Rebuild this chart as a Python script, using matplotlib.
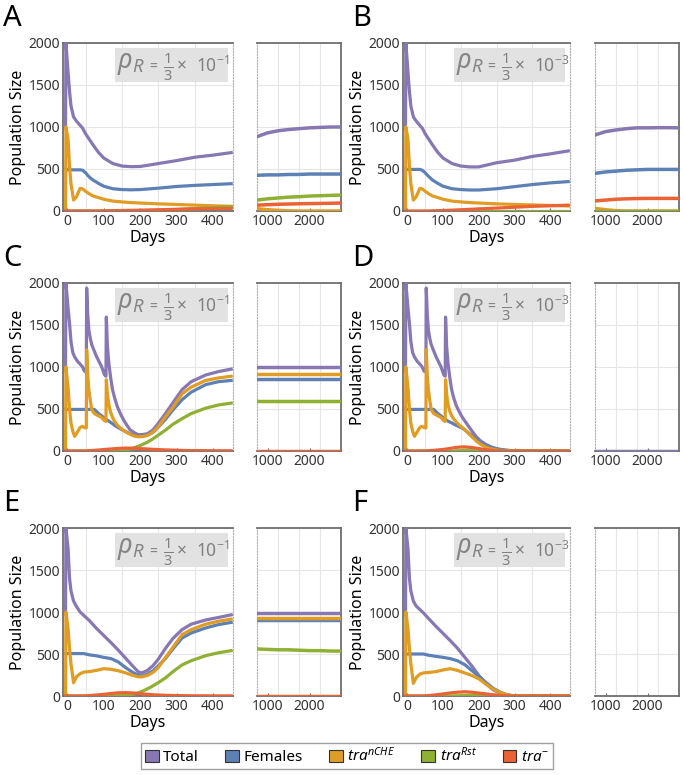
import matplotlib
matplotlib.use("Agg")
import matplotlib.pyplot as plt
from matplotlib.patches import Patch, Rectangle

plt.rcParams["font.family"] = ["Noto Sans", "DejaVu Sans"]
plt.rcParams["mathtext.fontset"] = "custom"
plt.rcParams["mathtext.rm"] = "Noto Sans"
plt.rcParams["mathtext.it"] = "Noto Sans:italic"

# ---- data ----
days_AB = [-5, -4, 2, 6, 10, 17, 25, 35, 42, 50, 60, 70, 85, 100, 125, 150, 175, 200, 250, 300, 350, 400, 450]
A_total = [1000, 2000, 1650, 1420, 1250, 1120, 1070, 1020, 985, 920, 855, 790, 700, 630, 565, 535, 528, 530, 565, 600, 640, 665, 695]
A_females = [500, 500, 490, 490, 490, 490, 490, 490, 485, 455, 405, 370, 330, 295, 265, 255, 252, 255, 272, 292, 305, 315, 325]
A_nche = [0, 1000, 850, 530, 320, 130, 170, 270, 262, 235, 205, 180, 160, 140, 118, 108, 100, 95, 85, 78, 70, 62, 56]
A_rst = [0, 0, 0, 0, 0, 0, 0, 0, 0, 0, 0, 0, 0, 0, 0, 0, 0, 2, 8, 18, 30, 40, 50]
A_minus = [0, 0, 0, 0, 0, 0, 0, 0, 0, 0, 0, 0, 0, 2, 4, 6, 8, 10, 15, 20, 25, 28, 30]

B_total = [1000, 2000, 1650, 1420, 1250, 1120, 1070, 1020, 985, 920, 855, 790, 700, 630, 565, 535, 525, 525, 575, 605, 650, 680, 715]
B_females = [500, 500, 495, 495, 495, 495, 495, 495, 485, 455, 410, 370, 330, 295, 265, 255, 250, 250, 265, 290, 315, 335, 350]
B_nche = [0, 1000, 850, 530, 320, 130, 170, 270, 262, 235, 205, 180, 160, 140, 118, 108, 100, 95, 85, 78, 72, 66, 60]
B_rst = [0, 0, 0, 0, 0, 0, 0, 0, 0, 0, 0, 0, 0, 0, 0, 0, 0, 0, 0, 0, 0, 0, 0]
B_minus = [0, 0, 0, 0, 0, 0, 0, 0, 0, 0, 0, 2, 4, 6, 10, 15, 20, 25, 35, 45, 55, 62, 70]

days_CD = [-5, -4, 2, 6, 10, 15, 20, 28, 35, 41, 47, 52, 53, 56, 59, 63, 67, 74, 80, 87, 94, 102, 106, 107,
           110, 114, 119, 124, 130, 137, 145, 154, 163, 172, 183, 194, 205, 220, 235, 250, 270, 290, 315, 340, 380, 415, 450]
C_total = [1000, 2000, 1700, 1520, 1300, 1170, 1120, 1066, 1035, 1005, 950, 940, 1940, 1620, 1440, 1340, 1265, 1190, 1126, 1065, 1005, 908, 890, 1594,
           1250, 1040, 870, 730, 630, 531, 450, 373, 310, 254, 220, 195, 195, 206, 250, 330, 450, 575, 730, 825, 905, 945, 975]
C_females = [500, 500, 495, 495, 495, 495, 495, 495, 495, 495, 495, 495, 495, 495, 495, 495, 495, 495, 470, 440, 420, 390, 375, 375,
             365, 355, 340, 325, 305, 285, 265, 245, 225, 205, 185, 174, 175, 190, 220, 285, 380, 490, 610, 700, 790, 825, 840]
C_nche = [0, 1000, 750, 500, 330, 234, 174, 230, 280, 293, 280, 274, 1206, 900, 730, 600, 492, 445, 432, 415, 400, 360, 353, 848,
          680, 550, 460, 400, 350, 310, 275, 245, 220, 200, 180, 170, 172, 185, 225, 290, 410, 520, 680, 760, 840, 870, 890]
C_rst = [0, 0, 0, 0, 0, 0, 0, 0, 0, 0, 0, 0, 0, 0, 0, 0, 0, 0, 0, 0, 0, 0, 0, 0,
         0, 0, 0, 0, 0, 0, 0, 5, 15, 25, 38, 55, 75, 105, 145, 190, 250, 318, 385, 445, 510, 548, 570]
C_minus = [0, 0, 0, 0, 0, 0, 0, 0, 0, 0, 0, 0, 2, 3, 4, 5, 6, 8, 10, 12, 15, 18, 20, 20,
           21, 22, 24, 26, 28, 30, 32, 34, 35, 34, 32, 30, 27, 24, 20, 17, 13, 10, 7, 5, 4, 3, 3]

D_total = [1000, 2000, 1700, 1520, 1300, 1170, 1120, 1066, 1035, 1005, 950, 940, 1940, 1620, 1440, 1340, 1265, 1190, 1126, 1065, 1005, 908, 890, 1594,
           1250, 1040, 870, 730, 630, 540, 470, 400, 345, 290, 225, 165, 120, 78, 48, 26, 12, 4, 0, 0, 0, 0, 0]
D_females = [500, 500, 495, 495, 495, 495, 495, 495, 495, 495, 495, 495, 495, 495, 495, 495, 495, 495, 470, 440, 420, 390, 375, 375,
             365, 355, 345, 335, 320, 305, 290, 272, 245, 212, 175, 135, 100, 65, 42, 25, 12, 3, 0, 0, 0, 0, 0]
D_nche = [0, 1000, 750, 500, 330, 234, 174, 230, 280, 293, 280, 274, 1206, 900, 730, 600, 492, 445, 432, 415, 400, 360, 353, 848,
          680, 550, 470, 420, 380, 345, 310, 280, 245, 205, 160, 115, 80, 45, 25, 12, 4, 0, 0, 0, 0, 0, 0]
D_rst = [0, 0, 0, 0, 0, 0, 0, 0, 0, 0, 0, 0, 0, 0, 0, 0, 0, 0, 0, 0, 0, 0, 0, 0,
         0, 0, 0, 0, 0, 2, 4, 6, 8, 8, 7, 6, 4, 2, 1, 0, 0, 0, 0, 0, 0, 0, 0]
D_minus = [0, 0, 0, 0, 0, 0, 0, 0, 0, 0, 0, 0, 2, 3, 4, 5, 6, 8, 10, 13, 16, 20, 22, 22,
           24, 27, 30, 34, 38, 42, 46, 48, 48, 45, 40, 33, 25, 16, 8, 3, 1, 0, 0, 0, 0, 0, 0]

days_E = [-5, -4, 2, 6, 10, 17, 25, 35, 45, 60, 80, 100, 120, 140, 160, 180, 195, 205, 220, 235, 250, 270, 290, 315, 340, 380, 415, 450]
E_total = [1000, 2000, 1750, 1400, 1250, 1130, 1065, 1000, 960, 900, 805, 720, 635, 545, 450, 355, 285, 275, 305, 360, 440, 570, 685, 790, 855, 905, 935, 966]
E_females = [505, 505, 505, 505, 505, 505, 505, 505, 505, 490, 478, 460, 445, 405, 338, 280, 248, 237, 260, 300, 360, 450, 560, 690, 750, 810, 850, 876]
E_nche = [0, 1000, 800, 560, 380, 158, 230, 265, 285, 290, 305, 325, 318, 300, 275, 245, 228, 228, 245, 280, 340, 460, 580, 730, 790, 855, 890, 915]
E_rst = [0, 0, 0, 0, 0, 0, 0, 0, 0, 0, 0, 0, 0, 3, 8, 20, 38, 55, 85, 120, 160, 217, 290, 370, 420, 480, 515, 540]
E_minus = [0, 0, 0, 0, 0, 0, 0, 0, 0, 5, 12, 20, 30, 38, 40, 36, 30, 26, 20, 15, 12, 8, 6, 4, 3, 2, 2, 2]

days_F = [-5, -4, 2, 6, 10, 17, 25, 35, 45, 60, 80, 100, 120, 140, 160, 180, 200, 220, 240, 260, 280, 300, 350, 400, 450]
F_total = [1000, 2000, 1750, 1400, 1250, 1130, 1070, 1030, 990, 920, 830, 745, 660, 570, 465, 360, 245, 145, 75, 32, 10, 2, 0, 0, 0]
F_females = [500, 500, 500, 500, 500, 500, 500, 500, 500, 485, 472, 460, 445, 420, 375, 305, 235, 160, 92, 45, 12, 2, 0, 0, 0]
F_nche = [0, 1000, 800, 560, 380, 150, 220, 260, 275, 280, 290, 310, 325, 305, 275, 245, 205, 140, 82, 40, 12, 2, 0, 0, 0]
F_rst = [0, 0, 0, 0, 0, 0, 0, 0, 0, 0, 0, 0, 0, 3, 6, 8, 7, 5, 3, 1, 0, 0, 0, 0, 0]
F_minus = [0, 0, 0, 0, 0, 0, 0, 0, 0, 5, 14, 25, 36, 45, 50, 45, 35, 25, 15, 5, 1, 0, 0, 0, 0]

# long-run window (right-hand panels)
side_days = [750, 1000, 1250, 1500, 1750, 2000, 2250, 2500, 2750]
A_side_total = [885, 930, 955, 970, 980, 990, 995, 1000, 1000]
A_side_females = [425, 430, 430, 435, 435, 440, 440, 440, 440]
A_side_nche = [28, 15, 8, 2, 0, 0, 0, 0, 0]
A_side_rst = [130, 145, 155, 165, 170, 178, 182, 186, 190]
A_side_minus = [70, 75, 80, 83, 86, 88, 90, 92, 95]
B_side_total = [905, 945, 965, 980, 990, 990, 992, 992, 990]
B_side_females = [448, 465, 475, 485, 490, 495, 495, 495, 495]
B_side_nche = [32, 15, 4, 0, 0, 0, 0, 0, 0]
B_side_rst = [0, 0, 0, 0, 0, 0, 0, 0, 0]
B_side_minus = [120, 130, 140, 145, 148, 150, 150, 150, 150]
C_side_total = [995, 995, 995, 995, 995, 995, 995, 995, 995]
C_side_females = [858, 858, 858, 858, 858, 858, 858, 858, 858]
C_side_nche = [915, 915, 915, 915, 915, 915, 915, 915, 915]
C_side_rst = [595, 595, 595, 595, 595, 595, 595, 595, 595]
C_side_minus = [3, 3, 3, 3, 3, 3, 3, 3, 3]
D_side_total = [0, 0, 0, 0, 0, 0, 0, 0, 0]
E_side_total = [990, 990, 990, 990, 990, 990, 990, 990, 990]
E_side_females = [900, 900, 900, 900, 900, 900, 900, 900, 900]
E_side_nche = [930, 930, 930, 930, 930, 930, 930, 930, 930]
E_side_rst = [560, 555, 550, 550, 545, 540, 540, 535, 535]
E_side_minus = [2, 2, 2, 2, 2, 2, 2, 2, 2]

labels = ["Total", "Females", r"$tra^{nCHE}$", r"$tra^{Rst}$", r"$tra^{-}$"]
colors = ["#8778b3", "#5e81b5", "#e19c24", "#8fb032", "#eb6235"]

panels = [
    ("A", 0, 0, days_AB, [A_total, A_females, A_nche, A_rst, A_minus],
     [A_side_total, A_side_females, A_side_nche, A_side_rst, A_side_minus], "-1"),
    ("B", 1, 0, days_AB, [B_total, B_females, B_nche, B_rst, B_minus],
     [B_side_total, B_side_females, B_side_nche, B_side_rst, B_side_minus], "-3"),
    ("C", 0, 1, days_CD, [C_total, C_females, C_nche, C_rst, C_minus],
     [C_side_total, C_side_females, C_side_nche, C_side_rst, C_side_minus], "-1"),
    ("D", 1, 1, days_CD, [D_total, D_females, D_nche, D_rst, D_minus],
     [D_side_total], "-3"),
    ("E", 0, 2, days_E, [E_total, E_females, E_nche, E_rst, E_minus],
     [E_side_total, E_side_females, E_side_nche, E_side_rst, E_side_minus], "-1"),
    ("F", 1, 2, days_F, [F_total, F_females, F_nche, F_rst, F_minus],
     [], "-3"),
]

W, H = 684, 775
fig = plt.figure(figsize=(W / 100, H / 100), dpi=100)

main_left = [63, 403]
main_w = [170, 167]
side_left = [257, 595]
side_w = 84
row_top = [43, 283, 528]
row_h = 168

spine_col = "#6e6e6e"
grid_col = "#e6e6e6"
dot_style = (0, (1, 1.6))
note_col = "#808080"


def style_axes(ax, dotted_side):
    for s in ax.spines.values():
        s.set_color(spine_col)
        s.set_linewidth(1.3)
    ax.spines[dotted_side].set_color("#b0b0b0")
    ax.spines[dotted_side].set_linewidth(0.8)
    ax.spines[dotted_side].set_linestyle(dot_style)
    ax.tick_params(which="both", length=0, labelsize=10, colors="#333333", pad=2)
    ax.tick_params(which="major", axis="x", length=2, direction="in", color=spine_col)
    ax.grid(which="minor", axis="x", color=grid_col, lw=0.8)
    ax.grid(which="major", axis="y", color=grid_col, lw=0.8)
    ax.set_axisbelow(True)


for letter, col, row, days, series, side_series, expo in panels:
    bottom = (H - row_top[row] - row_h) / H
    ax = fig.add_axes([main_left[col] / W, bottom, main_w[col] / W, row_h / H])
    sx = fig.add_axes([side_left[col] / W, bottom, side_w / W, row_h / H])

    for vals, c in zip(series, colors):
        ax.plot(days, vals, color=c, lw=2.3, zorder=3, solid_joinstyle="round")
    for vals, c in zip(side_series, colors):
        sx.plot(side_days, vals, color=c, lw=2.5, zorder=3)

    ax.set_xlim(-12, 455)
    ax.set_ylim(0, 2000)
    ax.set_xticks([0, 100, 200, 300, 400])
    ax.set_xticks([50, 150, 250, 350], minor=True)
    ax.set_yticks([0, 500, 1000, 1500, 2000])
    style_axes(ax, "right")
    ax.set_ylabel("Population Size", fontsize=11.5, labelpad=2)
    ax.set_xlabel("Days", fontsize=11.5, labelpad=1)

    sx.set_xlim(750, 2750)
    sx.set_ylim(0, 2000)
    sx.set_xticks([1000, 2000])
    sx.set_xticks([1250, 1750, 2250], minor=True)
    sx.set_yticks([500, 1000, 1500])
    sx.set_yticklabels([])
    style_axes(sx, "left")

    # rho_R annotation box
    ax.add_patch(Rectangle((0.305, 0.765), 0.665, 0.205, transform=ax.transAxes,
                           facecolor="#e2e2e2", edgecolor="none", zorder=2))
    ax.text(0.32, 0.88, r"$\rho_{R}$", transform=ax.transAxes, fontsize=19,
            color="#858585", ha="left", va="center", zorder=4)
    ax.text(0.505, 0.855, "=", transform=ax.transAxes, fontsize=10,
            color=note_col, ha="left", va="center", zorder=4)
    ax.text(0.62, 0.862, r"$\frac{1}{3}$", transform=ax.transAxes, fontsize=15,
            color=note_col, ha="center", va="center", zorder=4)
    ax.text(0.665, 0.865, r"$\times\ \ 10^{" + expo + "}$", transform=ax.transAxes,
            fontsize=12.5, color=note_col, ha="left", va="center", zorder=4)

    fig.text((3 + col * 349) / W, 1 - (row_top[row] - 39) / H, letter, fontsize=21,
             ha="left", va="top")

handles = [Patch(facecolor=c, edgecolor="#333333", linewidth=0.8) for c in colors]
fig.legend(handles, labels, loc="center", bbox_to_anchor=(347 / W, 1 - 756 / H), ncol=5,
           fontsize=11, frameon=True, fancybox=False, edgecolor="#8a8a8a",
           handlelength=0.9, handleheight=0.9, handletextpad=0.3, columnspacing=1.7,
           borderpad=0.25)

fig.savefig("out.png", dpi=100)
